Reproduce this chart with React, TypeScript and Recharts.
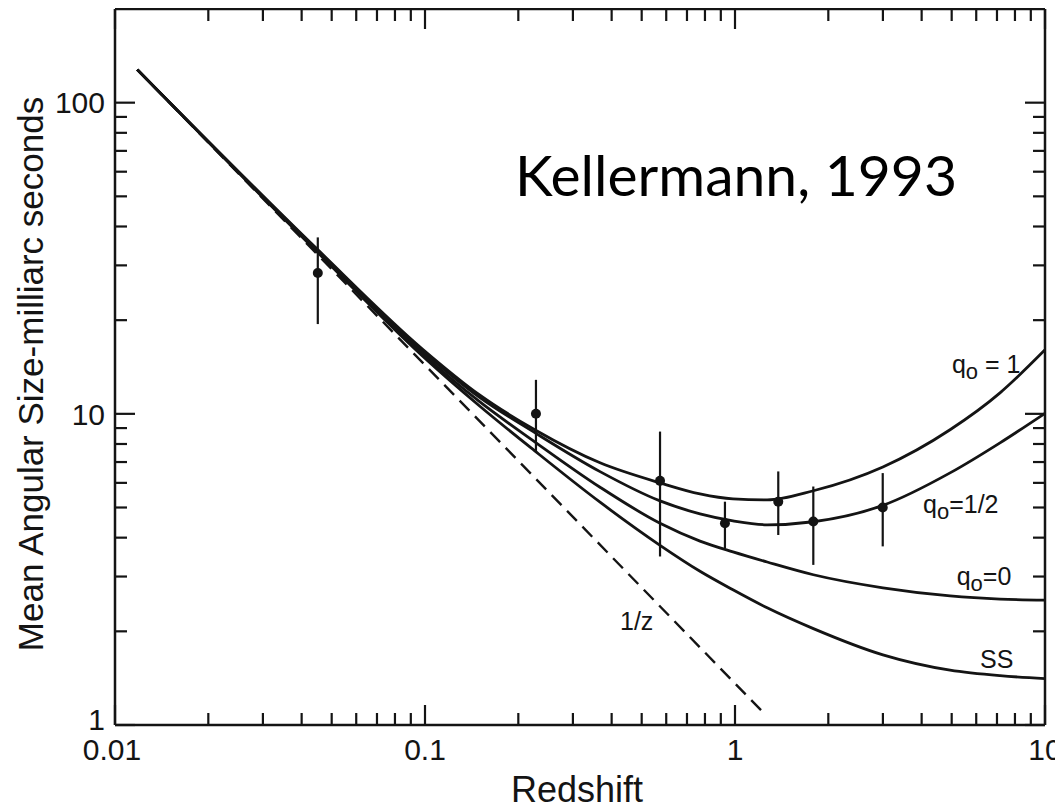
import React from 'react';
import { ComposedChart, Line, Scatter, XAxis, YAxis, ErrorBar } from 'recharts';

// ---- data ----
const CURVE_Z = [0.0118, 0.0448, 0.0985, 0.15, 0.226, 0.367, 0.573, 0.771, 0.985, 1.27, 1.79, 3.0, 4.94, 7.16, 10];
const Q_ONE = [127.7, 33.9, 16.1, 11.5, 8.89, 6.96, 6.0, 5.53, 5.33, 5.29, 5.66, 6.75, 8.89, 11.68, 16.06];
const Q_HALF = [127.7, 33.7, 15.85, 11.3, 8.7, 6.52, 5.25, 4.77, 4.53, 4.4, 4.5, 5.08, 6.46, 8.07, 10.04];
const Q_ZERO = [127.7, 33.4, 15.55, 10.95, 8.13, 5.81, 4.45, 3.9, 3.6, 3.34, 3.04, 2.76, 2.6, 2.54, 2.52];
const STEADY_STATE = [127.7, 33.2, 15.3, 10.6, 7.6, 5.2, 3.78, 3.12, 2.72, 2.38, 2.04, 1.68, 1.5, 1.44, 1.41];

const INV_Z = [0.0118, 0.1, 1.22];
const INV_SIZE = [127.7, 14.35, 1.11];

const PT_Z = [0.0451, 0.228, 0.573, 0.928, 1.379, 1.789, 2.996];
const PT_SIZE = [28.35, 10.0, 6.09, 4.45, 5.22, 4.51, 5.0];
const PT_HI = [36.9, 12.86, 8.77, 5.22, 6.53, 5.84, 6.45];
const PT_LO = [19.43, 7.57, 3.48, 3.7, 4.08, 3.27, 3.75];

const X_TICKS = [0.01, 0.02, 0.03, 0.04, 0.05, 0.06, 0.07, 0.08, 0.09, 0.1, 0.2, 0.3, 0.4, 0.5, 0.6, 0.7, 0.8, 0.9, 1, 2, 3, 4, 5, 6, 7, 8, 9, 10];
const Y_TICKS = [1, 2, 3, 4, 5, 6, 7, 8, 9, 10, 20, 30, 40, 50, 60, 70, 80, 90, 100];

// curve labels: text parts and anchor (left, baseline) in data units
const LABEL_MAIN = ['q', 'q', 'q', 'SS', '1/z'];
const LABEL_SUB = ['o', 'o', 'o', '', ''];
const LABEL_REST = [' = 1', '=1/2', '=0', '', ''];
const LABEL_Z = [5.01, 4.04, 5.19, 6.17, 0.4256];
const LABEL_SIZE = [13.55, 4.795, 2.819, 1.521, 2.021];

const TITLE_TEXT = 'Kellermann, 1993';
const TITLE_Z = 0.195;
const TITLE_SIZE = 50.2;

const X_TITLE = 'Redshift';
const Y_TITLE = 'Mean Angular Size-milliarc seconds';

// ---- build tables ----
const mk = (xs: number[], ys: number[]) => xs.map((x, i) => ({ x, y: ys[i] }));
const qOneData = mk(CURVE_Z, Q_ONE);
const qHalfData = mk(CURVE_Z, Q_HALF);
const qZeroData = mk(CURVE_Z, Q_ZERO);
const ssData = mk(CURVE_Z, STEADY_STATE);
const invData = mk(INV_Z, INV_SIZE);
const pointData = PT_Z.map((x, i) => ({
  x,
  y: PT_SIZE[i],
  err: [PT_SIZE[i] - PT_LO[i], PT_HI[i] - PT_SIZE[i]],
}));
const labelData = LABEL_MAIN.map((m, i) => ({
  x: LABEL_Z[i],
  y: LABEL_SIZE[i],
  main: m,
  sub: LABEL_SUB[i],
  rest: LABEL_REST[i],
}));
const titleData = [{ x: TITLE_Z, y: TITLE_SIZE, text: TITLE_TEXT }];

const INK = '#141414';
const FONT = '"Liberation Sans", Arial, Helvetica, sans-serif';

const isDecade = (v: number) => Math.abs(Math.log10(v) - Math.round(Math.log10(v))) < 1e-6;
const fmt = (v: number) => (v >= 1 ? String(Math.round(v)) : String(Number(v.toPrecision(1))));

type Side = 'bottom' | 'left' | 'top' | 'right';
const makeTick = (side: Side) => (props: any) => {
  const { x, y, payload } = props;
  const v = payload.value;
  const major = isDecade(v);
  const len = major ? 20 : 12;
  let line: any = null;
  if (side === 'bottom') line = <line x1={x} x2={x} y1={y} y2={y - len} />;
  if (side === 'top') line = <line x1={x} x2={x} y1={y} y2={y + len} />;
  if (side === 'left') line = <line x1={x} x2={x + len} y1={y} y2={y} />;
  if (side === 'right') line = <line x1={x} x2={x - len} y1={y} y2={y} />;
  let label: any = null;
  if (major && side === 'bottom') {
    label = (
      <text x={v === 0.01 ? x - 3 : x} y={y + 35} textAnchor="middle" fontSize={30} fontFamily={FONT} fill={INK} stroke="none">
        {fmt(v)}
      </text>
    );
  }
  if (major && side === 'left') {
    label = (
      <text x={x - 10} y={v === 1 ? y - 6 : y} dy="0.36em" textAnchor="end" fontSize={30} fontFamily={FONT} fill={INK} stroke="none">
        {fmt(v)}
      </text>
    );
  }
  return (
    <g>
      <g stroke={INK} strokeWidth={2.2}>{line}</g>
      {label}
    </g>
  );
};

const YTitle = (p: any) => {
  const vb = p && p.viewBox ? p.viewBox : { x: 27, y: 1, width: 80, height: 716 };
  const X = vb.x + 8;
  const Y = vb.y + vb.height / 2 + 7;
  return (
    <text
      x={X}
      y={Y}
      transform={`rotate(-90 ${X} ${Y})`}
      textAnchor="middle"
      fontSize={35}
      fontFamily={FONT}
      fill={INK}
    >
      {Y_TITLE}
    </text>
  );
};

const XTitle = (p: any) => {
  const vb = p && p.viewBox ? p.viewBox : { x: 107, y: 717, width: 930, height: 70 };
  return (
    <text x={vb.x + vb.width / 2 - 3} y={vb.y + 77} textAnchor="middle" fontSize={36} fontFamily={FONT} fill={INK}>
      {X_TITLE}
    </text>
  );
};

const CurveLabel = (p: any) => {
  const d = p.payload;
  if (!d || p.cx == null) return <g />;
  return (
    <text x={p.cx} y={p.cy} fontSize={25} fontFamily={FONT} fill={INK}>
      {d.main}
      {d.sub ? (
        <tspan dy={6} fontSize={22}>
          {d.sub}
        </tspan>
      ) : null}
      {d.rest ? <tspan dy={d.sub ? -6 : 0}>{d.rest}</tspan> : null}
    </text>
  );
};

const TitleLabel = (p: any) => {
  const d = p.payload;
  if (!d || p.cx == null) return <g />;
  return (
    <text x={p.cx} y={p.cy} fontSize={57} fontFamily='Lato, "Open Sans", sans-serif' fill="#000">
      {d.text}
    </text>
  );
};

const Dot = (p: any) => {
  if (p.cx == null) return <g />;
  return <circle cx={p.cx} cy={p.cy} r={5} fill={INK} />;
};

const axisLine = { stroke: INK, strokeWidth: 2.5 };

export default function App() {
  return (
    <div style={{ width: 1055, height: 802, background: '#fff' }}>
      <ComposedChart width={1055} height={802} margin={{ top: 0, right: 17, bottom: 15, left: 27 }}>
        <XAxis
          xAxisId="b"
          type="number"
          dataKey="x"
          scale="log"
          domain={[0.01, 10]}
          allowDataOverflow
          ticks={X_TICKS}
          interval={0}
          tickLine={false}
          tickSize={0}
          tickMargin={0}
          tick={makeTick('bottom')}
          height={70}
          axisLine={axisLine}
          label={XTitle}
        />
        <XAxis
          xAxisId="t"
          orientation="top"
          type="number"
          dataKey="x"
          scale="log"
          domain={[0.01, 10]}
          allowDataOverflow
          ticks={X_TICKS}
          interval={0}
          tickLine={false}
          tickSize={0}
          tickMargin={0}
          tick={makeTick('top')}
          height={1}
          axisLine={axisLine}
        />
        <YAxis
          yAxisId="l"
          type="number"
          dataKey="y"
          scale="log"
          domain={[1, 200]}
          allowDataOverflow
          ticks={Y_TICKS}
          interval={0}
          tickLine={false}
          tickSize={0}
          tickMargin={0}
          tick={makeTick('left')}
          width={80}
          axisLine={axisLine}
          label={YTitle}
        />
        <YAxis
          yAxisId="r"
          orientation="right"
          type="number"
          dataKey="y"
          scale="log"
          domain={[1, 200]}
          allowDataOverflow
          ticks={Y_TICKS}
          interval={0}
          tickLine={false}
          tickSize={0}
          tickMargin={0}
          tick={makeTick('right')}
          width={1}
          axisLine={axisLine}
        />
        <Line xAxisId="b" yAxisId="l" data={invData} dataKey="y" type="linear" stroke={INK} strokeWidth={2.4} strokeDasharray="14 8" dot={false} isAnimationActive={false} />
        <Line xAxisId="b" yAxisId="l" data={ssData} dataKey="y" type="monotone" stroke={INK} strokeWidth={2.8} dot={false} isAnimationActive={false} />
        <Line xAxisId="b" yAxisId="l" data={qZeroData} dataKey="y" type="monotone" stroke={INK} strokeWidth={2.8} dot={false} isAnimationActive={false} />
        <Line xAxisId="b" yAxisId="l" data={qHalfData} dataKey="y" type="monotone" stroke={INK} strokeWidth={2.8} dot={false} isAnimationActive={false} />
        <Line xAxisId="b" yAxisId="l" data={qOneData} dataKey="y" type="monotone" stroke={INK} strokeWidth={2.8} dot={false} isAnimationActive={false} />
        <Scatter xAxisId="b" yAxisId="l" data={pointData} dataKey="y" fill={INK} shape={Dot} isAnimationActive={false}>
          <ErrorBar dataKey="err" direction="y" width={0} stroke={INK} strokeWidth={2.2} isAnimationActive={false} />
        </Scatter>
        <Scatter xAxisId="t" yAxisId="r" data={labelData} dataKey="y" fill={INK} shape={CurveLabel} isAnimationActive={false} />
        <Scatter xAxisId="t" yAxisId="r" data={titleData} dataKey="y" fill={INK} shape={TitleLabel} isAnimationActive={false} />
      </ComposedChart>
    </div>
  );
}
